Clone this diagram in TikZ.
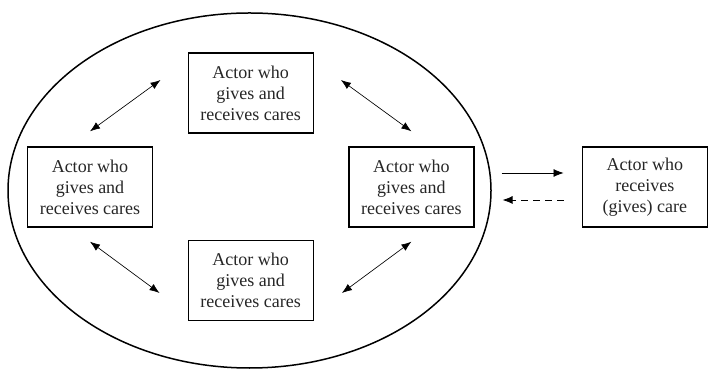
\documentclass[tikz,border=0pt]{standalone}
\usepackage{fontspec}
\setmainfont{Liberation Serif}
\usetikzlibrary{arrows.meta,positioning,calc}
\tikzset{
  actor/.style={draw, line width=1.4pt, align=center, minimum width=125pt, minimum height=80pt, inner sep=2pt, font=\fontsize{18}{21}\selectfont, text=black!85},
  arr/.style={-{Latex[length=10pt,width=8pt]}, line width=0.75pt},
  dbl/.style={{Latex[length=10pt,width=7.5pt]}-{Latex[length=10pt,width=7.5pt]}, line width=0.65pt},
  ring/.style={draw, line width=1.5pt}}

\begin{document}
\begin{tikzpicture}[x=1pt, y=1pt]
  \useasboundingbox (0,0) rectangle (708,369);
  \draw[ring] (249.5,178.5) ellipse [x radius=241.5, y radius=177.5];
  \node[actor] (left) at (90,182) {Actor who\\gives and\\receives cares};
  \node[actor, right=195pt of left] (right) {Actor who\\gives and\\receives cares};
  \node[actor] (top) at ($(left)!0.5!(right)+(0,94)$) {Actor who\\gives and\\receives cares};
  \node[actor] (bottom) at ($(left)!0.5!(right)+(0,-93.5)$) {Actor who\\gives and\\receives cares};
  \node[actor, right=107pt of right] (out) {Actor who\\receives\\(gives) care};
  % exchanges inside the circle
  \draw[dbl] ([yshift=15pt]left.north) -- ([xshift=-27pt,yshift=13pt]top.west);
  \draw[dbl] ([xshift=27pt,yshift=13pt]top.east) -- ([yshift=15pt]right.north);
  \draw[dbl] ([yshift=-14pt]left.south) -- ([xshift=-28pt,yshift=-12.5pt]bottom.west);
  \draw[dbl] ([xshift=28pt,yshift=-12.5pt]bottom.east) -- ([yshift=-14pt]right.south);
  % to and from the outside actor
  \draw[arr] ([xshift=27pt,yshift=14pt]right.east) -- ([xshift=-18pt,yshift=14pt]out.west);
  \draw[arr, dash pattern=on 7pt off 5pt] ([xshift=-18pt,yshift=-13pt]out.west) -- ([xshift=28pt,yshift=-13pt]right.east);
\end{tikzpicture}
\end{document}
